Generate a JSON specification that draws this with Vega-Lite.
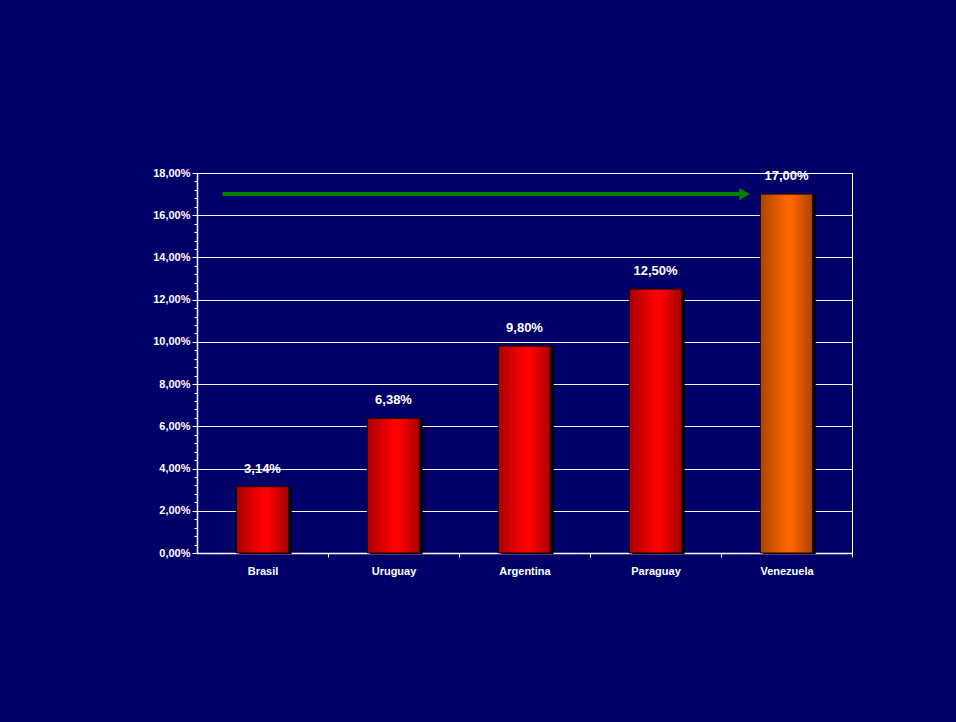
{
  "$schema": "https://vega.github.io/schema/vega-lite/v6.json",
  "width": 655,
  "height": 380,
  "autosize": {"type": "none"},
  "padding": {"left": 197, "top": 173, "right": 104, "bottom": 169},
  "background": "#000068",
  "config": {
    "view": {"stroke": "#ffffff", "strokeWidth": 1},
    "font": "Liberation Sans",
    "locale": {"number": {"decimal": ",", "thousands": ".", "grouping": [3], "currency": ["", " €"], "percent": "%"}}
  },
  "datasets": {
    "rates": [
      {"country": "Brasil", "value": 0.0314},
      {"country": "Uruguay", "value": 0.0638},
      {"country": "Argentina", "value": 0.098},
      {"country": "Paraguay", "value": 0.125},
      {"country": "Venezuela", "value": 0.17}
    ],
    "arrow": [{"from": "Brasil", "to": "Venezuela", "level": 0.17}]
  },
  "layer": [
    {
      "data": {"name": "rates"},
      "mark": {"type": "bar", "color": "#000000", "xOffset": 3, "yOffset": 1},
      "encoding": {
        "x": {
          "field": "country", "type": "nominal",
          "scale": {"domain": ["Brasil", "Uruguay", "Argentina", "Paraguay", "Venezuela"], "paddingInner": 0.6, "paddingOuter": 0.3},
          "axis": {
            "title": null, "labelAngle": 0, "labelColor": "#ffffff", "labelFont": "Liberation Sans",
            "labelFontWeight": "bold", "labelFontSize": 11, "labelPadding": 8,
            "tickOffset": 65.5, "labelOffset": -65.5, "tickColor": "#ffffff", "tickSize": 4,
            "domainColor": "#ffffff", "domainWidth": 1.5
          }
        },
        "y": {
          "field": "value", "type": "quantitative",
          "scale": {"domain": [0, 0.18], "nice": false, "zero": true},
          "axis": {
            "title": null,
            "tickCount": 100,
            "values": [0, 0.004, 0.008, 0.012, 0.016, 0.02, 0.024, 0.028, 0.032, 0.036, 0.04, 0.044, 0.048, 0.052, 0.056, 0.06, 0.064, 0.068, 0.072, 0.076, 0.08, 0.084, 0.088, 0.092, 0.096, 0.1, 0.104, 0.108, 0.112, 0.116, 0.12, 0.124, 0.128, 0.132, 0.136, 0.14, 0.144, 0.148, 0.152, 0.156, 0.16, 0.164, 0.168, 0.172, 0.176, 0.18],
            "labelExpr": "abs(datum.value*50 - round(datum.value*50)) < 0.001 ? replace(format(datum.value, '.2%'), '.', ',') : ''",
            "labelColor": "#ffffff", "labelFontWeight": "bold", "labelFontSize": 11, "labelPadding": 2,
            "tickColor": "#ffffff",
            "tickSize": {"condition": {"test": "abs(datum.value*50 - round(datum.value*50)) < 0.001", "value": 5}, "value": 3},
            "grid": true, "gridColor": "#ffffff", "gridWidth": 1,
            "gridOpacity": {"condition": {"test": "abs(datum.value*50 - round(datum.value*50)) < 0.001", "value": 0.95}, "value": 0},
            "domainColor": "#ffffff", "domainWidth": 1.5, "labelOverlap": false
          }
        }
      }
    },
    {
      "data": {"name": "rates"},
      "transform": [{"filter": "datum.country !== 'Venezuela'"}],
      "mark": {
        "type": "bar", "stroke": "#200000", "strokeWidth": 1,
        "fill": {"gradient": "linear", "x1": 0, "x2": 1, "y1": 0, "y2": 0,
          "stops": [{"offset": 0, "color": "#a80000"}, {"offset": 0.5, "color": "#ff0000"}, {"offset": 0.6, "color": "#ff0000"}, {"offset": 1, "color": "#a00000"}]}
      },
      "encoding": {
        "x": {"field": "country", "type": "nominal"},
        "y": {"field": "value", "type": "quantitative"}
      }
    },
    {
      "data": {"name": "rates"},
      "transform": [{"filter": "datum.country === 'Venezuela'"}],
      "mark": {
        "type": "bar", "stroke": "#200000", "strokeWidth": 1,
        "fill": {"gradient": "linear", "x1": 0, "x2": 1, "y1": 0, "y2": 0,
          "stops": [{"offset": 0, "color": "#a84400"}, {"offset": 0.5, "color": "#ff6600"}, {"offset": 0.6, "color": "#ff6600"}, {"offset": 1, "color": "#a84400"}]}
      },
      "encoding": {
        "x": {"field": "country", "type": "nominal"},
        "y": {"field": "value", "type": "quantitative"}
      }
    },
    {
      "data": {"name": "rates"},
      "mark": {"type": "text", "color": "#ffffff", "fontWeight": "bold", "fontSize": 13, "baseline": "bottom", "dy": -11, "font": "Liberation Sans"},
      "encoding": {
        "x": {"field": "country", "type": "nominal"},
        "y": {"field": "value", "type": "quantitative"},
        "text": {"field": "value", "type": "quantitative", "format": ".2%"}
      }
    },
    {
      "data": {"name": "arrow"},
      "mark": {"type": "rule", "color": "#008000", "strokeWidth": 4, "xOffset": -40, "x2Offset": -46},
      "encoding": {
        "x": {"field": "from", "type": "nominal"},
        "x2": {"field": "to"},
        "y": {"field": "level", "type": "quantitative"}
      }
    },
    {
      "data": {"name": "arrow"},
      "mark": {"type": "point", "shape": "triangle-right", "filled": true, "color": "#008000", "opacity": 1, "size": 150, "xOffset": -42},
      "encoding": {
        "x": {"field": "to", "type": "nominal"},
        "y": {"field": "level", "type": "quantitative"}
      }
    }
  ]
}
